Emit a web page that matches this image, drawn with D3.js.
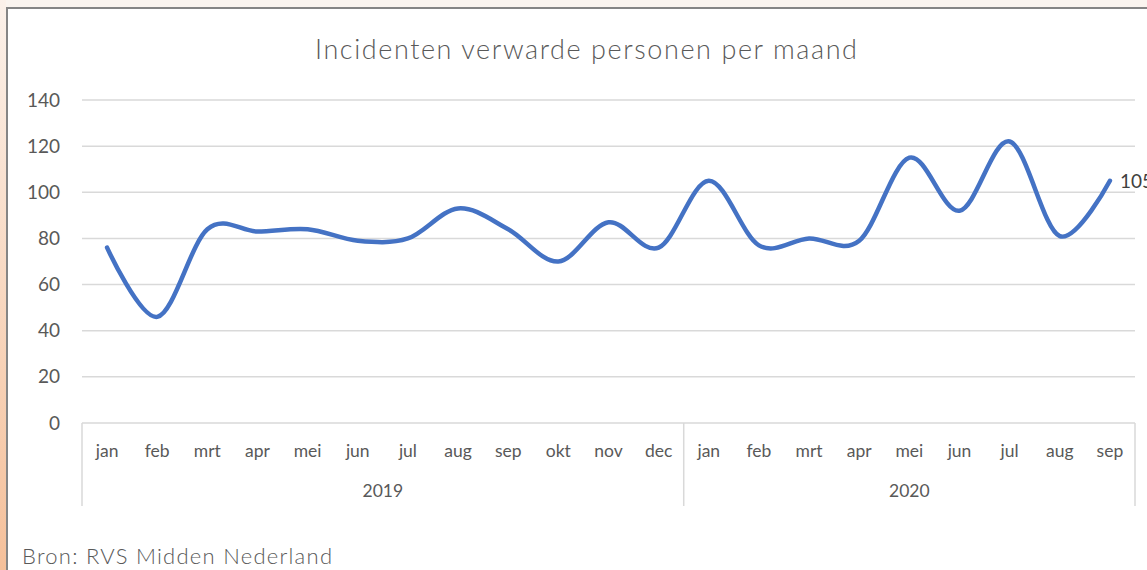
<!DOCTYPE html>
<html>
<head>
<meta charset="utf-8">
<script src="https://cdn.jsdelivr.net/npm/d3@7"></script>
<style>
  body { margin: 0; background: #fff; overflow: hidden; }
  svg { display: block; }
</style>
</head>
<body>
<script>
var W = 1147, H = 570;

// data
var months = ['jan','feb','mrt','apr','mei','jun','jul','aug','sep','okt','nov','dec',
              'jan','feb','mrt','apr','mei','jun','jul','aug','sep'];
var years = ['2019', '2020'];
var yearCounts = [12, 9];
var incidents = [76, 46, 84, 83, 84, 79, 80, 93, 84, 70, 87, 76,
                 105, 77, 80, 79, 115, 92, 122, 81, 105];
var yTicks = [0, 20, 40, 60, 80, 100, 120, 140];

var svg = d3.select('body').append('svg')
  .attr('width', W).attr('height', H);

// page background outside the chart frame
var defs = svg.append('defs');
var grad = defs.append('linearGradient').attr('id', 'side')
  .attr('x1', 0).attr('y1', 0).attr('x2', 0).attr('y2', 1);
grad.append('stop').attr('offset', '0%').attr('stop-color', '#fbf1ea');
grad.append('stop').attr('offset', '100%').attr('stop-color', '#f5c09a');

svg.append('rect').attr('x', 0).attr('y', 0).attr('width', W).attr('height', 8)
  .attr('fill', '#faf4ef');
svg.append('rect').attr('x', 0).attr('y', 0).attr('width', 6).attr('height', H)
  .attr('fill', 'url(#side)');
// frame border
svg.append('rect').attr('x', 7).attr('y', 8).attr('width', W + 10).attr('height', H + 10)
  .attr('fill', '#fff').attr('stroke', '#858585').attr('stroke-width', 2);

var plotLeft = 82, plotRight = 1135, plotTop = 100, plotBottom = 423;

var x = d3.scaleBand()
  .domain(d3.range(months.length))
  .range([plotLeft, plotRight]);

var y = d3.scaleLinear()
  .domain([0, 140])
  .range([plotBottom, plotTop]);

// gridlines
svg.append('g')
  .selectAll('line')
  .data(yTicks.slice(1))
  .join('line')
  .attr('x1', plotLeft).attr('x2', plotRight)
  .attr('y1', function(d){ return y(d); })
  .attr('y2', function(d){ return y(d); })
  .attr('stroke', '#d9d9d9')
  .attr('stroke-width', 1.5);

// y tick labels
svg.append('g')
  .selectAll('text')
  .data(yTicks)
  .join('text')
  .attr('x', 60)
  .attr('y', function(d){ return y(d) + 6.5; })
  .attr('text-anchor', 'end')
  .attr('font-family', 'Lato, "Open Sans", sans-serif')
  .attr('font-size', 19)
  .attr('fill', '#595959')
  .text(function(d){ return d; });

// category axis: baseline + year separators
var axisBottom = 506;
svg.append('line')
  .attr('x1', plotLeft).attr('x2', plotRight)
  .attr('y1', plotBottom).attr('y2', plotBottom)
  .attr('stroke', '#d9d9d9').attr('stroke-width', 1.5);

var bounds = [0];
yearCounts.forEach(function(c, i){ bounds.push(bounds[i] + c); });
var edge = function(i){ return i < months.length ? x(i) : plotRight; };

svg.append('g')
  .selectAll('line')
  .data(bounds)
  .join('line')
  .attr('x1', edge)
  .attr('x2', edge)
  .attr('y1', plotBottom)
  .attr('y2', axisBottom)
  .attr('stroke', '#d9d9d9').attr('stroke-width', 1.5);

svg.append('g')
  .selectAll('text')
  .data(months)
  .join('text')
  .attr('x', function(d, i){ return x(i) + x.bandwidth() / 2; })
  .attr('y', 457)
  .attr('text-anchor', 'middle')
  .attr('font-family', 'Lato, "Open Sans", sans-serif')
  .attr('font-size', 17.5)
  .attr('fill', '#595959')
  .text(function(d){ return d; });

svg.append('g')
  .selectAll('text')
  .data(years)
  .join('text')
  .attr('x', function(d, i){ return (edge(bounds[i]) + edge(bounds[i + 1])) / 2; })
  .attr('y', 497)
  .attr('text-anchor', 'middle')
  .attr('font-family', 'Lato, "Open Sans", sans-serif')
  .attr('font-size', 17.5)
  .attr('fill', '#595959')
  .text(function(d){ return d; });

// the smoothed line
var line = d3.line()
  .x(function(d, i){ return x(i) + x.bandwidth() / 2; })
  .y(function(d){ return y(d); })
  .curve(d3.curveCatmullRom.alpha(0));

svg.append('path')
  .datum(incidents)
  .attr('d', line)
  .attr('fill', 'none')
  .attr('stroke', '#4472c4')
  .attr('stroke-width', 4.5)
  .attr('stroke-linecap', 'round')
  .attr('stroke-linejoin', 'round');

// label on the last point (cut off by the frame edge, as in the original)
var last = incidents.length - 1;
svg.append('text')
  .attr('x', x(last) + x.bandwidth() / 2 + 10)
  .attr('y', y(incidents[last]) + 7)
  .attr('font-family', 'Lato, "Open Sans", sans-serif')
  .attr('font-size', 19)
  .attr('fill', '#404040')
  .text(incidents[last]);

// title
svg.append('text')
  .attr('x', 586)
  .attr('y', 59)
  .attr('text-anchor', 'middle')
  .attr('font-family', 'Lato, "Open Sans", sans-serif')
  .attr('font-weight', 300)
  .attr('font-size', 27)
  .attr('fill', '#595959')
  .attr('textLength', 542)
  .attr('lengthAdjust', 'spacing')
  .text('Incidenten verwarde personen per maand');

// source note
svg.append('text')
  .attr('x', 22)
  .attr('y', 564)
  .attr('font-family', 'Lato, "Open Sans", sans-serif')
  .attr('font-weight', 300)
  .attr('font-size', 22)
  .attr('fill', '#595959')
  .attr('textLength', 310)
  .attr('lengthAdjust', 'spacing')
  .text('Bron: RVS Midden Nederland');
</script>
</body>
</html>
